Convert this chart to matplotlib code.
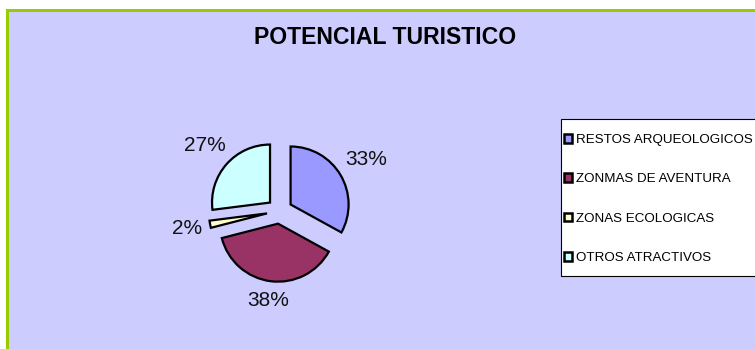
import numpy as np
import matplotlib.pyplot as plt
from matplotlib.patches import Rectangle

plt.rcParams['font.family'] = ['Liberation Sans', 'DejaVu Sans']

# porcentajes por tipo de atractivo
categorias = ['RESTOS ARQUEOLOGICOS', 'ZONMAS DE AVENTURA',
              'ZONAS ECOLOGICAS', 'OTROS ATRACTIVOS']
valores = [33, 38, 2, 27]
colores = ['#9999FF', '#993366', '#FFFFCC', '#CCFFFF']

W, H = 755, 349
fig = plt.figure(figsize=(W / 100, H / 100), dpi=100)
fig.patch.set_facecolor('white')


def px_rect(x, y, w, h, **kw):
    # rectangulo en pixeles medidos desde la esquina superior izquierda
    return Rectangle((x / W, 1 - (y + h) / H), w / W, h / H,
                     transform=fig.transFigure, **kw)


# fondo lila del area del grafico con borde verde arriba e izquierda
fig.patches.append(px_rect(6, 9, W, H, facecolor='#CCCCFF', edgecolor='none', zorder=-2))
fig.patches.append(px_rect(6, 9, W, 3, facecolor='#99CC00', edgecolor='none', zorder=-1))
fig.patches.append(px_rect(6, 9, 3, H, facecolor='#99CC00', edgecolor='none', zorder=-1))

fig.text(385.5 / W, 1 - 37 / H, 'POTENCIAL TURISTICO', ha='center', va='center',
         fontsize=16.6, fontweight='bold')

# eje del pastel: centro en (279.6, 211) px, radio 58 px
R = 58
size = 3 * R
cx, cy = 279.6, 211
ax = fig.add_axes([(cx - size / 2) / W, (H - cy - size / 2) / H, size / W, size / H])
ax.set_facecolor('none')

explode = 0.22
wedges, texts, autotexts = ax.pie(
    valores, colors=colores, startangle=90, counterclock=False,
    explode=[explode] * len(valores), autopct='%1.0f%%', pctdistance=1.45,
    wedgeprops=dict(edgecolor='black', linewidth=1.6),
    textprops=dict(fontsize=15, color='#111111'))
ax.set_xlim(-1.5, 1.5)
ax.set_ylim(-1.5, 1.5)
ax.set_aspect('equal')
ax.axis('off')

# etiquetas fuera de cada porcion, a una distancia fija del borde
fig.canvas.draw()
renderer = fig.canvas.get_renderer()
gap = 7
for w, t in zip(wedges, autotexts):
    ang = np.deg2rad((w.theta1 + w.theta2) / 2)
    c, s = np.cos(ang), np.sin(ang)
    bb = t.get_window_extent(renderer)
    ext = abs(c) * bb.width / 2 + abs(s) * bb.height / 2
    d = explode + 1 + (gap + ext) / R
    t.set_position((d * c, d * s))
    t.set_ha('center')
    t.set_va('center')

# recuadro blanco de la leyenda (se sale por la derecha)
fig.patches.append(px_rect(561, 119, 250, 157, facecolor='white',
                           edgecolor='black', linewidth=0.8, zorder=1))
leg = fig.legend(wedges, categorias, loc='upper left',
                 bbox_to_anchor=(564 / W, 1 - 134 / H), borderaxespad=0,
                 fontsize=9.6, frameon=False,
                 handlelength=0.6, handleheight=0.6, handletextpad=0.3,
                 labelspacing=2.05, borderpad=0)
leg.set_zorder(2)
for h in leg.legend_handles:
    h.set_linewidth(1.8)

fig.savefig('out.png', dpi=100)
